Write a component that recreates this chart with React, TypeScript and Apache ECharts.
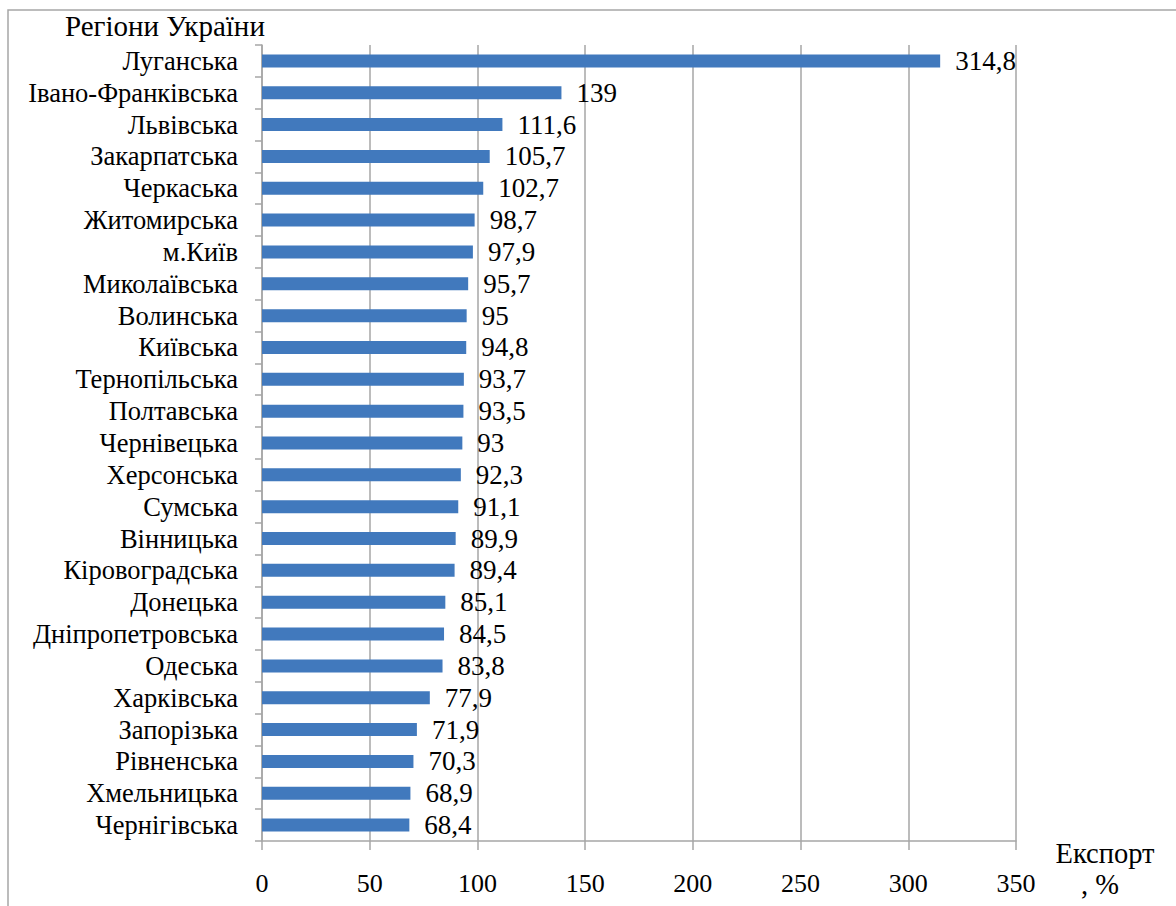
import React, { useEffect, useRef } from "react";
import * as echarts from "echarts";

// Regions of Ukraine, top to bottom
const regions: string[] = [
  "Луганська",
  "Івано-Франківська",
  "Львівська",
  "Закарпатська",
  "Черкаська",
  "Житомирська",
  "м.Київ",
  "Миколаївська",
  "Волинська",
  "Київська",
  "Тернопільська",
  "Полтавська",
  "Чернівецька",
  "Херсонська",
  "Сумська",
  "Вінницька",
  "Кіровоградська",
  "Донецька",
  "Дніпропетровська",
  "Одеська",
  "Харківська",
  "Запорізька",
  "Рівненська",
  "Хмельницька",
  "Чернігівська",
];

// Export, %
const exportValues: number[] = [
  314.8, 139, 111.6, 105.7, 102.7, 98.7, 97.9, 95.7, 95, 94.8, 93.7, 93.5, 93,
  92.3, 91.1, 89.9, 89.4, 85.1, 84.5, 83.8, 77.9, 71.9, 70.3, 68.9, 68.4,
];

const axisMin = 0;
const axisMax = 350;
const axisStep = 50;

const FONT = "Liberation Serif";
const GRID_GRAY = "#A6A6A6";

export default function App() {
  const ref = useRef<HTMLDivElement>(null);

  useEffect(() => {
    if (!ref.current) return;
    const chart = echarts.init(ref.current, undefined, { renderer: "svg" });
    chart.setOption({
      animation: false,
      backgroundColor: "#ffffff",
      textStyle: { fontFamily: FONT },
      grid: { left: 262, right: 160, top: 45, bottom: 65, containLabel: false },
      xAxis: {
        type: "value",
        min: axisMin,
        max: axisMax,
        interval: axisStep,
        axisLine: { show: true, lineStyle: { color: GRID_GRAY, width: 1.5 } },
        axisTick: { show: true, length: 9, lineStyle: { color: GRID_GRAY, width: 1.5 } },
        splitLine: { show: true, lineStyle: { color: GRID_GRAY, width: 1.5 } },
        axisLabel: {
          margin: 29,
          fontSize: 26,
          color: "#000",
          fontFamily: FONT,
          formatter: (v: number) => String(v),
        },
      },
      yAxis: {
        type: "category",
        inverse: true,
        data: regions,
        axisLine: { show: true, lineStyle: { color: GRID_GRAY, width: 1.5 } },
        axisTick: { show: true, length: 7, lineStyle: { color: GRID_GRAY, width: 1.5 } },
        axisLabel: {
          interval: 0,
          margin: 24,
          fontSize: 26.5,
          color: "#000",
          fontFamily: FONT,
        },
        splitLine: { show: false },
      },
      series: [
        {
          type: "bar",
          data: exportValues,
          barWidth: 13,
          itemStyle: { color: "#4179BD" },
          label: {
            show: true,
            position: "right",
            distance: 15,
            fontSize: 27,
            color: "#000",
            fontFamily: FONT,
            formatter: (p: any) => String(p.value).replace(".", ","),
          },
        },
      ],
      graphic: [
        {
          type: "rect",
          shape: { x: 8, y: 10, width: 1180, height: 910 },
          style: { fill: "none", stroke: GRID_GRAY, lineWidth: 1.5 },
          silent: true,
        },
        {
          type: "text",
          x: 65,
          y: 11,
          style: { text: "Регіони України", fontFamily: FONT, fontSize: 29, fill: "#000" },
        },
        {
          type: "text",
          x: 1105,
          y: 853,
          style: {
            text: "Експорт",
            fontFamily: FONT,
            fontSize: 28.5,
            fill: "#000",
            align: "center",
            verticalAlign: "middle",
          },
        },
        {
          type: "text",
          x: 1100,
          y: 884,
          style: {
            text: ", %",
            fontFamily: FONT,
            fontSize: 28.5,
            fill: "#000",
            align: "center",
            verticalAlign: "middle",
          },
        },
      ],
    });
    return () => chart.dispose();
  }, []);

  return (
    <div
      ref={ref}
      style={{ position: "fixed", left: 0, top: 0, width: 1176, height: 906 }}
    />
  );
}
